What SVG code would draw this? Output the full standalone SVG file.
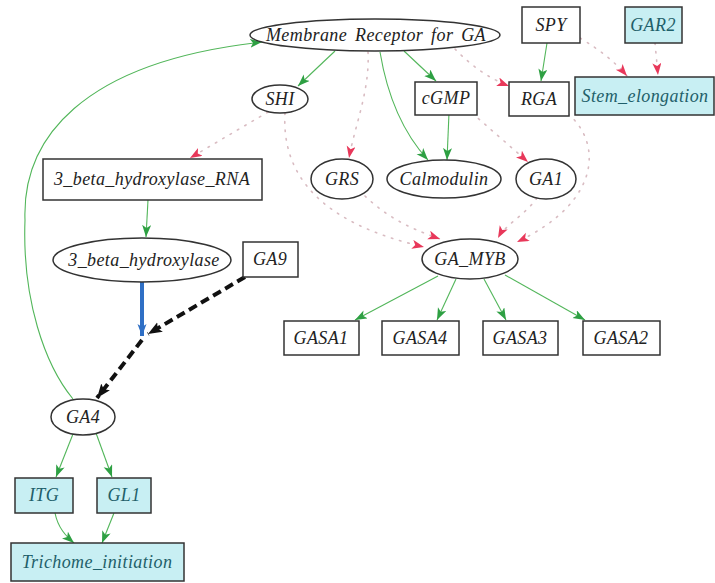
<svg xmlns="http://www.w3.org/2000/svg" width="715" height="583" viewBox="0 0 715 583">
<style>
.n{fill:#fff;stroke:#333;stroke-width:1.5}
.c{fill:#c8eff3;stroke:#333;stroke-width:1.5}
text{font-family:"Liberation Serif","Times New Roman",serif;font-style:italic;font-size:18px;fill:#222;text-anchor:middle;letter-spacing:0.4px}
.ct{fill:#1f5f6a}
.g{fill:none;stroke:#52b65a;stroke-width:1.1}
.d{fill:none;stroke:#d9bcc2;stroke-width:1.6;stroke-dasharray:1.5 7;stroke-linecap:round}
.b{fill:none;stroke:#2f6fc5;stroke-width:4}
.k{fill:none;stroke:#111;stroke-width:4;stroke-dasharray:9 5}
</style>
<defs>
<marker id="ag" markerUnits="userSpaceOnUse" markerWidth="13" markerHeight="10" refX="12" refY="4.5" orient="auto"><path d="M0,0 L12,4.5 L0,9 L3,4.5 z" fill="#2ea043"/></marker>
<marker id="ar" markerUnits="userSpaceOnUse" markerWidth="13" markerHeight="10" refX="12" refY="4.5" orient="auto"><path d="M0,0 L12,4.5 L0,9 L3,4.5 z" fill="#e8385a"/></marker>
<marker id="ab" markerUnits="userSpaceOnUse" markerWidth="13" markerHeight="10" refX="12" refY="4.5" orient="auto"><path d="M0,0 L12,4.5 L0,9 L3,4.5 z" fill="#2f6fc5"/></marker>
<marker id="ak" markerUnits="userSpaceOnUse" markerWidth="15" markerHeight="12" refX="14" refY="5.5" orient="auto"><path d="M0,0 L14,5.5 L0,11 L3,5.5 z" fill="#111"/></marker>
</defs>
<g id="edges">
<path class="d" d="M455,49 Q480,75 509,86" marker-end="url(#ar)"/>
<path class="d" d="M368,52 C370,90 355,125 349,158" marker-end="url(#ar)"/>
<path class="d" d="M268,112 L190,158" marker-end="url(#ar)"/>
<path class="d" d="M285,113 C280,200 360,232 424,247" marker-end="url(#ar)"/>
<path class="d" d="M365,196 C390,220 415,230 440,239" marker-end="url(#ar)"/>
<path class="d" d="M472,113 L528,162" marker-end="url(#ar)"/>
<path class="d" d="M537,198 C525,215 505,225 498,238" marker-end="url(#ar)"/>
<path class="d" d="M568,114 C600,140 605,200 517,242" marker-end="url(#ar)"/>
<path class="d" d="M580,38 C600,50 615,62 627,76" marker-end="url(#ar)"/>
<path class="d" d="M655,43 L658,75" marker-end="url(#ar)"/>
<path class="g" d="M335,51 L298,86" marker-end="url(#ag)"/>
<path class="g" d="M404,51 L436,81" marker-end="url(#ag)"/>
<path class="g" d="M380,52 C388,100 405,135 428,160" marker-end="url(#ag)"/>
<path class="g" d="M449,113 L447,160" marker-end="url(#ag)"/>
<path class="g" d="M547,43 L541,81" marker-end="url(#ag)"/>
<path class="g" d="M148,200 L146,237" marker-end="url(#ag)"/>
<path class="g" d="M73,399 C45,365 22,300 25,220 C22,140 80,62 262,42" marker-end="url(#ag)"/>
<path class="g" d="M438,276 L355,320" marker-end="url(#ag)"/>
<path class="g" d="M456,279 L437,320" marker-end="url(#ag)"/>
<path class="g" d="M484,279 L506,320" marker-end="url(#ag)"/>
<path class="g" d="M505,275 L585,320" marker-end="url(#ag)"/>
<path class="g" d="M73,434 L56,477" marker-end="url(#ag)"/>
<path class="g" d="M96,433 L112,477" marker-end="url(#ag)"/>
<path class="g" d="M55,513 C58,528 66,536 74,543" marker-end="url(#ag)"/>
<path class="g" d="M114,513 L102,543" marker-end="url(#ag)"/>
<path class="b" d="M142,282 L142,336" marker-end="url(#ab)"/>
<path class="k" d="M245,277 L148,334" marker-end="url(#ak)"/>
<path class="k" d="M142,340 L97,398" marker-end="url(#ak)"/>
</g>
<g id="membrane"><ellipse class="n" cx="375" cy="35" rx="125" ry="16"/><text x="376" y="41" word-spacing="3" letter-spacing="0.2">Membrane Receptor for GA</text></g>
<g id="spy"><rect class="n" x="522" y="7" width="58" height="36"/><text x="551" y="31">SPY</text></g>
<g id="gar2"><rect class="c" x="625" y="7" width="57" height="36"/><text class="ct" x="653" y="31">GAR2</text></g>
<g id="shi"><ellipse class="n" cx="280" cy="99" rx="28" ry="14"/><text x="280" y="105">SHI</text></g>
<g id="cgmp"><rect class="n" x="415" y="82" width="62" height="33"/><text x="446" y="104">cGMP</text></g>
<g id="rga"><rect class="n" x="509" y="82" width="60" height="34"/><text x="539" y="105">RGA</text></g>
<g id="stem"><rect class="c" x="575" y="77" width="139" height="38"/><text class="ct" x="645" y="102">Stem_elongation</text></g>
<g id="rna"><rect class="n" x="43" y="159" width="219" height="41"/><text x="152" y="185">3_beta_hydroxylase_RNA</text></g>
<g id="grs"><ellipse class="n" cx="342" cy="179" rx="31" ry="20"/><text x="342" y="185">GRS</text></g>
<g id="calmodulin"><ellipse class="n" cx="444" cy="179" rx="57" ry="19"/><text x="444" y="185">Calmodulin</text></g>
<g id="ga1"><ellipse class="n" cx="546" cy="179" rx="30" ry="20"/><text x="546" y="185">GA1</text></g>
<g id="bh"><ellipse class="n" cx="142" cy="260" rx="89" ry="22"/><text x="144" y="266">3_beta_hydroxylase</text></g>
<g id="ga9"><rect class="n" x="243" y="242" width="55" height="35"/><text x="270" y="265">GA9</text></g>
<g id="gamyb"><ellipse class="n" cx="470" cy="259" rx="48" ry="20"/><text x="470" y="265">GA_MYB</text></g>
<g id="gasa1"><rect class="n" x="284" y="321" width="75" height="34"/><text x="321" y="344">GASA1</text></g>
<g id="gasa4"><rect class="n" x="382" y="321" width="77" height="34"/><text x="420" y="344">GASA4</text></g>
<g id="gasa3"><rect class="n" x="483" y="321" width="75" height="34"/><text x="520" y="344">GASA3</text></g>
<g id="gasa2"><rect class="n" x="583" y="321" width="77" height="34"/><text x="621" y="344">GASA2</text></g>
<g id="ga4"><ellipse class="n" cx="83" cy="417" rx="32" ry="18"/><text x="83" y="423">GA4</text></g>
<g id="itg"><rect class="c" x="15" y="478" width="58" height="35"/><text class="ct" x="44" y="501">ITG</text></g>
<g id="gl1"><rect class="c" x="97" y="478" width="54" height="35"/><text class="ct" x="124" y="501">GL1</text></g>
<g id="trichome"><rect class="c" x="11" y="543" width="173" height="38"/><text class="ct" x="97" y="568">Trichome_initiation</text></g>
</svg>
